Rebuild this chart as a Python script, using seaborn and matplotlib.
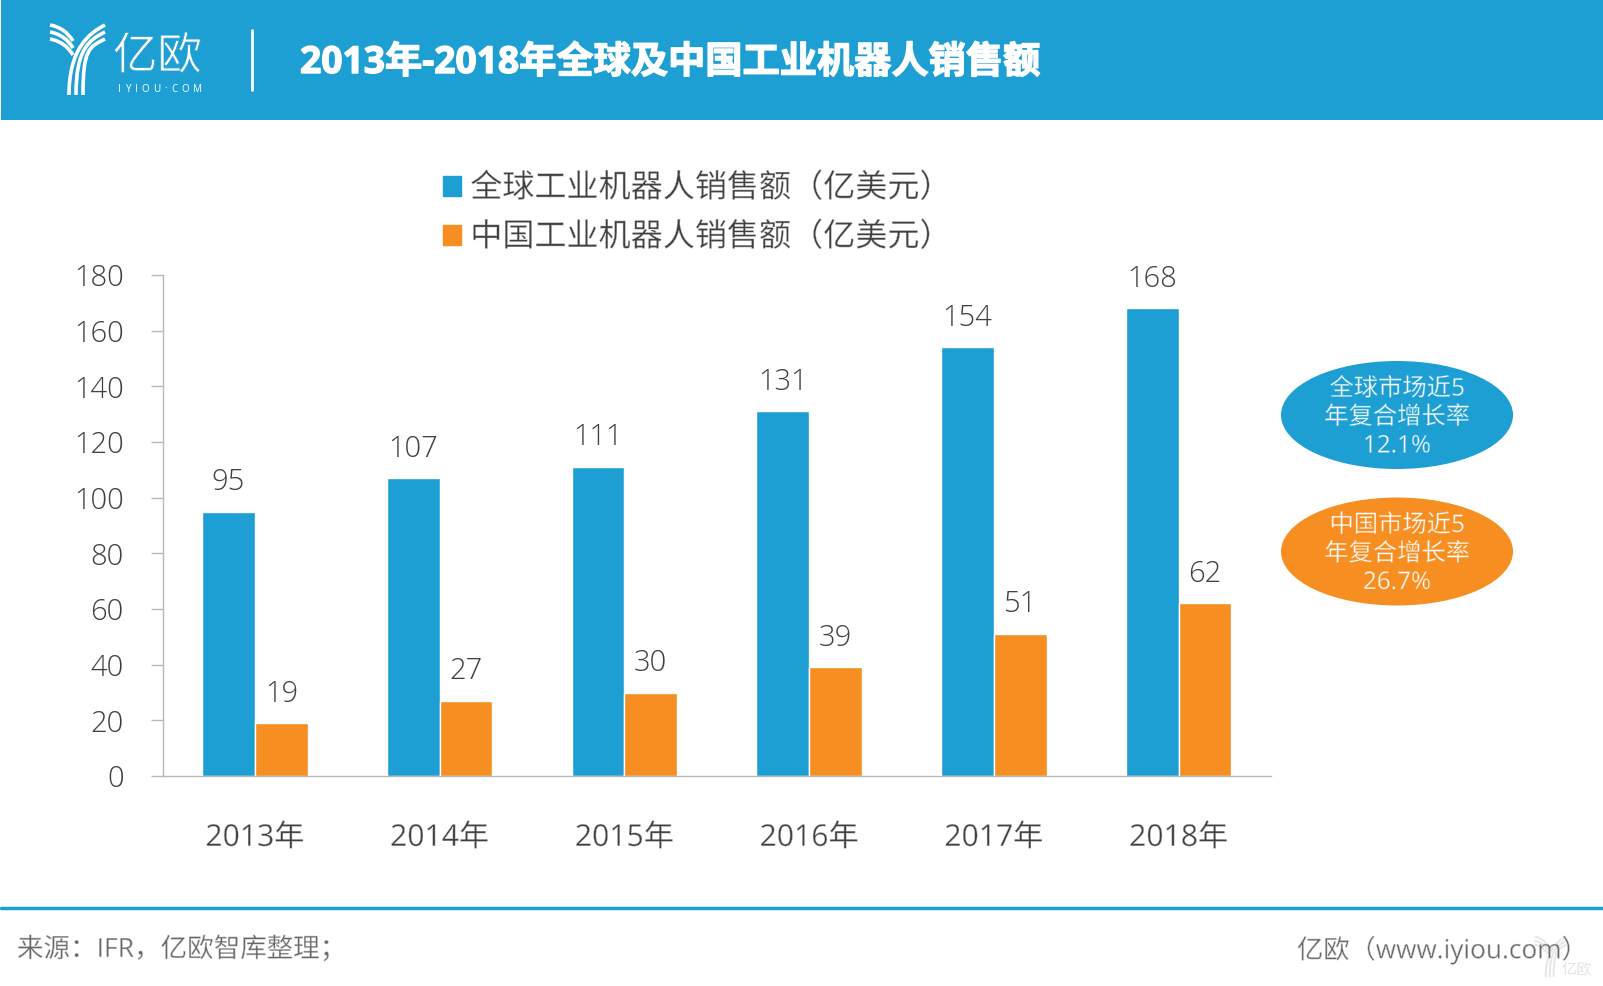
import numpy as np
import pandas as pd
import seaborn as sns
import matplotlib
matplotlib.use('Agg')
import matplotlib.pyplot as plt
import matplotlib.patheffects as pe
from matplotlib.patches import Ellipse, Rectangle, PathPatch
from matplotlib.path import Path

years = ['2013年', '2014年', '2015年', '2016年', '2017年', '2018年']
world_sales = [95, 107, 111, 131, 154, 168]
china_sales = [19, 27, 30, 39, 51, 62]
world_name = '全球工业机器人销售额（亿美元）'
china_name = '中国工业机器人销售额（亿美元）'
title = '2013年-2018年全球及中国工业机器人销售额'
world_note = ['全球市场近5', '年复合增长率', '12.1%']
china_note = ['中国市场近5', '年复合增长率', '26.7%']
source = '来源：IFR，亿欧智库整理；'
site = '亿欧（www.iyiou.com）'

BLUE = '#1e9fd4'
ORANGE = '#f78e22'
GREY = '#404040'
W, H = 1603, 986

sns.set_theme(style='white')
plt.rcParams['font.family'] = ['Open Sans', 'Noto Sans CJK SC', 'DejaVu Sans']
plt.rcParams['font.weight'] = 'light'


def thin(color='white', lw=0.35):
    # Noto CJK n'a pas de graisse light : on affine les glyphes avec un contour du fond
    return [pe.Normal(), pe.Stroke(linewidth=lw, foreground=color)]


df = pd.DataFrame({
    'year': years * 2,
    'sales': world_sales + china_sales,
    'series': [world_name] * 6 + [china_name] * 6,
})

fig = plt.figure(figsize=(W / 100, H / 100), dpi=100, facecolor='white')

# calque en pixels pour bandeau, ellipses, pied de page
bg = fig.add_axes([0, 0, 1, 1], zorder=0)
bg.set_xlim(0, W)
bg.set_ylim(H, 0)
bg.axis('off')

ax = fig.add_axes([162.5 / W, 1 - 776 / H, (1271 - 162.5) / W, (776 - 275) / H], zorder=1)
ax.patch.set_alpha(0)
sns.barplot(data=df, x='year', y='sales', hue='series', palette=[BLUE, ORANGE],
            width=0.572, gap=0, saturation=1, ax=ax, legend=False)
ax.set_xlim(-0.5, 5.5)
ax.set_ylim(0, 180)
ax.set_yticks(range(0, 181, 20))
ax.set_xlabel('')
ax.set_ylabel('')
for c in ax.containers:
    ax.bar_label(c, padding=10.5, fontsize=21, color=GREY)
for s in ['top', 'right']:
    ax.spines[s].set_visible(False)
for s in ['left', 'bottom']:
    ax.spines[s].set_color('#b8b8b8')
    ax.spines[s].set_linewidth(1)
ax.tick_params(axis='y', left=True, length=9, width=1, color='#b8b8b8', pad=19,
               labelsize=21, labelcolor=GREY)
ax.tick_params(axis='x', bottom=False, pad=28.5, labelsize=21.7, labelcolor=GREY)
for t in ax.get_xticklabels():
    t.set_fontweight('regular')
    t.set_path_effects(thin())

# légende
handles = [Rectangle((0, 0), 1, 1, color=BLUE), Rectangle((0, 0), 1, 1, color=ORANGE)]
leg = fig.legend(handles, [world_name, china_name], loc='upper left',
                 bbox_to_anchor=(443 / W, 1 - 173 / H), frameon=False, fontsize=23.1,
                 labelcolor=GREY, handlelength=0.57, handleheight=0.57, handletextpad=0.28,
                 labelspacing=0.53, borderpad=0, borderaxespad=0)
for t in leg.get_texts():
    t.set_path_effects(thin())

# bandeau
bg.add_patch(Rectangle((1, 0), W, 120, color=BLUE, lw=0))
bg.plot([252, 252], [30, 90], color='white', lw=2)
bg.text(300, 63, title, color='white', fontsize=26.8, fontweight='bold', va='center',
        ha='left', path_effects=[pe.withStroke(linewidth=1.0, foreground='white')])


def logo(x, y, s, color, alpha=1.0):
    # Y stylisé
    for d in [0, 7, 14]:
        path = Path([(x + (20 + d) * s, y + 71 * s), (x + (20 + d) * s, y + 25 * s),
                     (x + 40 * s, y + (9 + d) * s), (x + 56 * s, y + (1 + d) * s)],
                    [Path.MOVETO, Path.CURVE4, Path.CURVE4, Path.CURVE4])
        bg.add_patch(PathPatch(path, fc='none', ec=color, lw=2.6 * s, alpha=alpha))
    for d in [0, 7, 14]:
        path = Path([(x + 1 * s, y + (1 + d) * s), (x + 12 * s, y + (3 + d) * s),
                     (x + 19 * s, y + (9 + d) * s), (x + 24 * s, y + (17 + d) * s)],
                    [Path.MOVETO, Path.CURVE4, Path.CURVE4, Path.CURVE4])
        bg.add_patch(PathPatch(path, fc='none', ec=color, lw=2.6 * s, alpha=alpha))


logo(49, 24, 1.0, 'white')
bg.text(113, 58, '亿欧', color='white', fontsize=32, va='center', ha='left',
        path_effects=thin(BLUE, 0.6))
for ch, cx in zip('IYIOU·COM', [118, 125, 134.5, 141.5, 153, 164, 171, 181, 192.5]):
    bg.text(cx, 89, ch, color='white', fontsize=7.2, fontweight='regular', va='center', ha='left')

# ellipses
for cy, col, note in [(415, BLUE, world_note), (551.5, ORANGE, china_note)]:
    bg.add_patch(Ellipse((1397, cy), 232, 108, color=col, lw=0))
    for i, line in enumerate(note):
        bg.text(1397, cy + 3 + (i - 1) * 28.5, line, color='white', fontsize=17.5,
                fontweight='regular', ha='center', va='center', path_effects=thin(col))

# pied de page
bg.plot([1, W], [908, 908], color=BLUE, lw=2.5)
bg.text(17, 950, source, color='#666666', fontsize=19.1, fontweight='regular', va='center',
        ha='left', path_effects=thin())
bg.text(1297, 950, site, color='#666666', fontsize=18.9, fontweight='regular', va='center',
        ha='left', path_effects=thin())
logo(1534, 936, 0.58, '#dddddd', alpha=0.7)
bg.text(1562, 971, '亿欧', color='#e4e4e4', fontsize=11, va='center', ha='left')

fig.savefig('out.png', dpi=100)
